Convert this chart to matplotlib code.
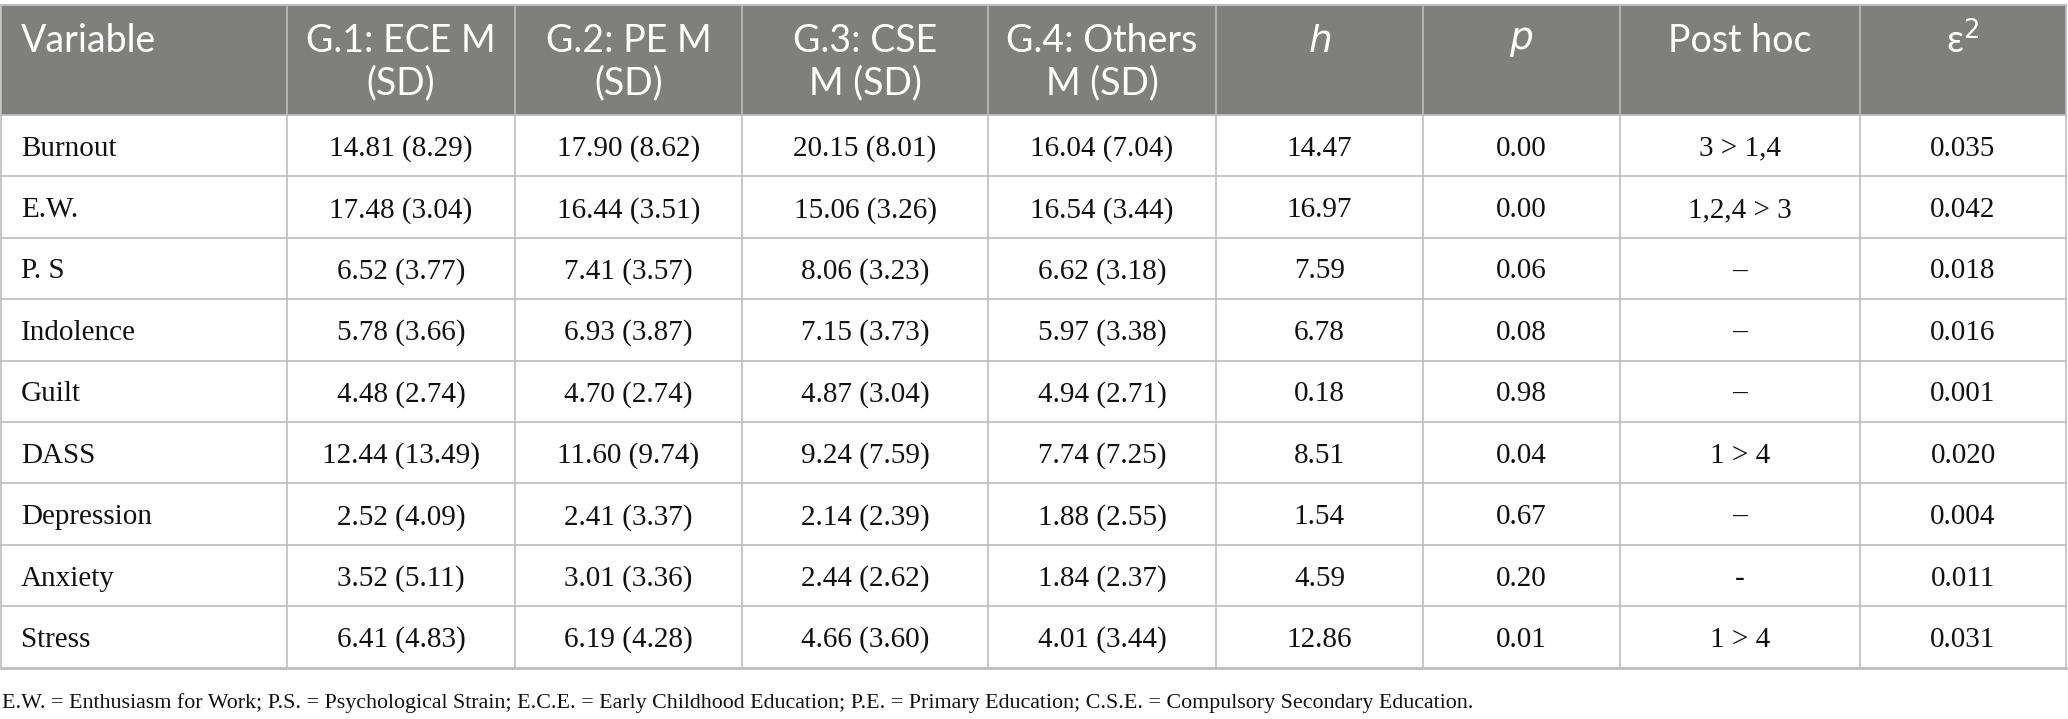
import matplotlib.pyplot as plt
from matplotlib.patches import Rectangle

# table content
headers = ["Variable", "G.1: ECE M\n(SD)", "G.2: PE M\n(SD)", "G.3: CSE\nM (SD)",
           "G.4: Others\nM (SD)", "$\\mathit{h}$", "$\\mathit{p}$", "Post hoc", "ε$^2$"]
variables = ["Burnout", "E.W.", "P. S", "Indolence", "Guilt", "DASS",
             "Depression", "Anxiety", "Stress"]
g1 = ["14.81 (8.29)", "17.48 (3.04)", "6.52 (3.77)", "5.78 (3.66)", "4.48 (2.74)",
      "12.44 (13.49)", "2.52 (4.09)", "3.52 (5.11)", "6.41 (4.83)"]
g2 = ["17.90 (8.62)", "16.44 (3.51)", "7.41 (3.57)", "6.93 (3.87)", "4.70 (2.74)",
      "11.60 (9.74)", "2.41 (3.37)", "3.01 (3.36)", "6.19 (4.28)"]
g3 = ["20.15 (8.01)", "15.06 (3.26)", "8.06 (3.23)", "7.15 (3.73)", "4.87 (3.04)",
      "9.24 (7.59)", "2.14 (2.39)", "2.44 (2.62)", "4.66 (3.60)"]
g4 = ["16.04 (7.04)", "16.54 (3.44)", "6.62 (3.18)", "5.97 (3.38)", "4.94 (2.71)",
      "7.74 (7.25)", "1.88 (2.55)", "1.84 (2.37)", "4.01 (3.44)"]
h_vals = ["14.47", "16.97", "7.59", "6.78", "0.18", "8.51", "1.54", "4.59", "12.86"]
p_vals = ["0.00", "0.00", "0.06", "0.08", "0.98", "0.04", "0.67", "0.20", "0.01"]
post_hoc = ["3 > 1,4", "1,2,4 > 3", "–", "–", "–", "1 > 4", "–", "-", "1 > 4"]
eps2 = ["0.035", "0.042", "0.018", "0.016", "0.001", "0.020", "0.004", "0.011", "0.031"]
footnote = ("E.W. = Enthusiasm for Work; P.S. = Psychological Strain; E.C.E. = Early "
            "Childhood Education; P.E. = Primary Education; C.S.E. = Compulsory "
            "Secondary Education.")

columns = [variables, g1, g2, g3, g4, h_vals, p_vals, post_hoc, eps2]

# layout in pixels
W, H = 2068, 719
col_edges = [1, 287, 515, 742, 988, 1216, 1423, 1620, 1860, 2066]
head_top, head_bot = 5, 115
row_h = 61.4
n_rows = len(variables)
grid = "#bdbdbd"
head_col = "#7f7f7e"

fig = plt.figure(figsize=(W / 100, H / 100), dpi=100)
ax = fig.add_axes([0, 0, 1, 1])
ax.set_xlim(0, W)
ax.set_ylim(H, 0)
ax.axis("off")

# header band
ax.add_patch(Rectangle((col_edges[0], head_top), col_edges[-1] - col_edges[0],
                       head_bot - head_top, facecolor=head_col, edgecolor="none"))
ax.plot([col_edges[0], col_edges[-1]], [head_top, head_top], color=grid, lw=1.5)

table_bot = head_bot + n_rows * row_h
for x in col_edges:
    ax.plot([x, x], [head_top, table_bot], color=grid, lw=1.2)
for i in range(n_rows + 1):
    y = head_bot + i * row_h
    ax.plot([col_edges[0], col_edges[-1]], [y, y], color=grid, lw=1.2 if i < n_rows else 2)

# header text
hfs = 27
hkw = dict(color="white", fontsize=hfs, family="Lato", va="center")
for j, txt in enumerate(headers):
    cx = (col_edges[j] + col_edges[j + 1]) / 2
    if j == 0:
        ax.text(col_edges[0] + 20, 41, txt, ha="left", **hkw)
    elif "\n" in txt:
        lines = txt.split("\n")
        ax.text(cx, 41, lines[0], ha="center", **hkw)
        ax.text(cx, 83, lines[1], ha="center", **hkw)
    else:
        ax.text(cx, 41, txt, ha="center", **hkw)

# body text
bfs = 21
for i in range(n_rows):
    cy = head_bot + (i + 0.5) * row_h + 3
    for j, col in enumerate(columns):
        if j == 0:
            ax.text(col_edges[0] + 20, cy, col[i], ha="left", va="center",
                    fontsize=bfs, family="Liberation Serif", color="#111111")
        else:
            cx = (col_edges[j] + col_edges[j + 1]) / 2
            ax.text(cx, cy, col[i], ha="center", va="center",
                    fontsize=bfs, family="Liberation Serif", color="#111111")

ax.text(2, 703, footnote, ha="left", va="center", fontsize=15.8,
        family="Liberation Serif", color="#111111")

fig.savefig("out.png", dpi=100)
